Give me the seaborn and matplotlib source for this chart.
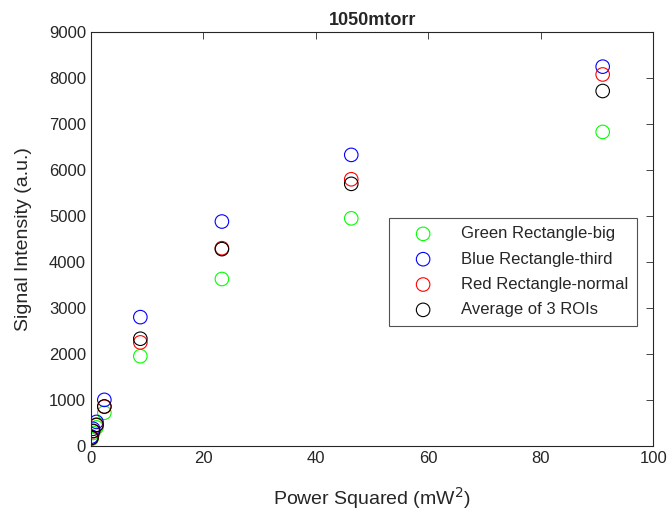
import matplotlib
matplotlib.use("Agg")
import matplotlib.pyplot as plt
import seaborn as sns
import numpy as np

power_sq = [0.1, 0.4, 1.0, 2.4, 8.8, 23.3, 46.3, 91.0]
green_big = [150, 280, 400, 720, 1950, 3630, 4950, 6830]
blue_third = [200, 370, 520, 1000, 2800, 4880, 6330, 8250]
red_normal = [170, 320, 450, 850, 2250, 4300, 5800, 8080]
average_3 = [173, 323, 457, 857, 2330, 4280, 5700, 7720]

labels = ["Green Rectangle-big", "Blue Rectangle-third", "Red Rectangle-normal", "Average of 3 ROIs"]
colors = ["#00ff00", "#0000ff", "#ff0000", "#000000"]
series = [green_big, blue_third, red_normal, average_3]

sns.set_style("white")
plt.rcParams['font.family'] = ['Liberation Sans', 'DejaVu Sans']

fig = plt.figure(figsize=(6.68, 5.19), dpi=100)
ax = fig.add_axes([0.136, 0.141, 0.842, 0.797])

for lab, col, ys in zip(labels, colors, series):
    sns.scatterplot(x=power_sq, y=ys, ax=ax, marker='o', s=95,
                    facecolors='none', edgecolor=col, linewidth=0.8, label=lab)

ax.set_xlim(0, 100)
ax.set_ylim(0, 9000)
ax.set_xticks(np.arange(0, 101, 20))
ax.set_yticks(np.arange(0, 9001, 1000))
ax.tick_params(direction='in', length=5, width=0.6, labelsize=12, top=True, right=True,
               labeltop=False, labelright=False, colors='#262626')
for sp in ax.spines.values():
    sp.set_visible(True)
    sp.set_color('#262626')
    sp.set_linewidth(0.8)

ax.set_xlabel("Power Squared (mW$^2$)", fontsize=14, color='#262626', labelpad=14)
ax.set_ylabel("Signal Intensity (a.u.)", fontsize=14, color='#262626', labelpad=12)
ax.set_title("1050mtorr", fontsize=13, fontweight='bold', pad=5)

leg = ax.legend(loc='upper left', bbox_to_anchor=(0.53, 0.551), fontsize=12,
                frameon=True, fancybox=False, borderpad=0.5, labelspacing=0.62,
                handlelength=3.1, handletextpad=0.75, borderaxespad=0)
leg.get_frame().set_edgecolor('#262626')
leg.get_frame().set_linewidth(0.8)

fig.savefig("out.png", dpi=100)
